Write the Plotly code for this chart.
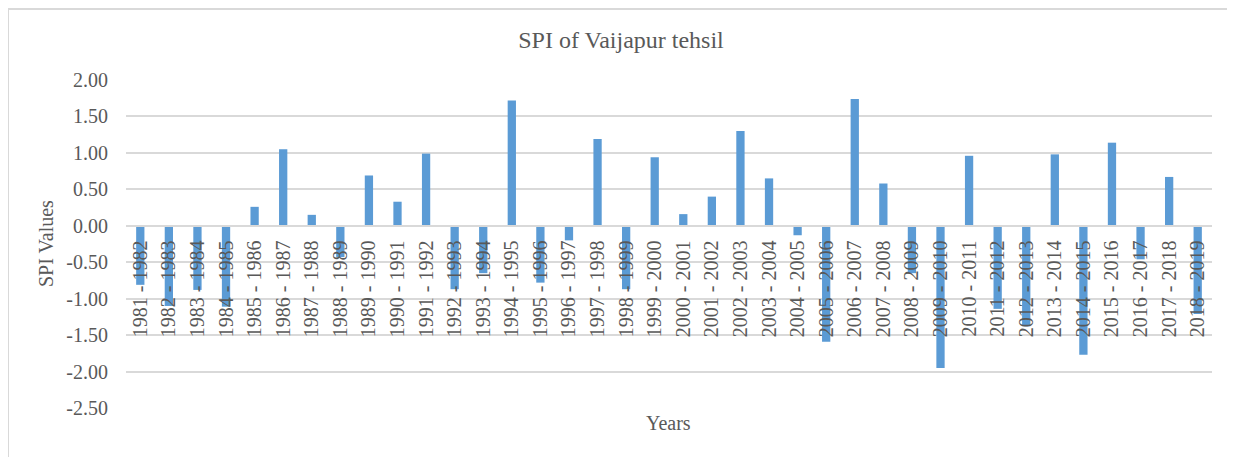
import plotly.graph_objects as go

years = [f"{y} - {y+1}" for y in range(1981, 2019)]
spi_values = [-0.81, -1.10, -0.88, -1.11, 0.26, 1.05, 0.15, -0.43, 0.69, 0.33,
              0.99, -0.87, -0.65, 1.72, -0.78, -0.20, 1.19, -0.87, 0.94, 0.16,
              0.40, 1.30, 0.65, -0.13, -1.59, 1.74, 0.58, -0.65, -1.95, 0.96,
              -1.14, -1.38, 0.98, -1.77, 1.14, -0.46, 0.67, -1.21]
y_ticks = [2.0, 1.5, 1.0, 0.5, 0.0, -0.5, -1.0, -1.5, -2.0, -2.5]

# page body adds an 8px offset; figure covers page pixels 8..1235 x 8..457
OFF = 8
W, H = 1235 - OFF, 457 - OFF
L, R, T, B = 126 - OFF, 23, 80 - OFF, 49
pw, ph = W - L - R, H - T - B

def px(x):  # page pixel -> paper x
    return (x - OFF - L) / pw

def py(y):  # page pixel -> paper y
    return (H - B - (y - OFF)) / ph

font = "Liberation Serif, Times New Roman, serif"
txt = "#595959"
grid = "#D9D9D9"

fig = go.Figure(go.Bar(x=years, y=spi_values, marker_color="#5B9BD5",
                       marker_line_width=0))

fig.update_layout(
    width=W, height=H,
    margin=dict(l=L, r=R, t=T, b=B, autoexpand=False),
    paper_bgcolor="white", plot_bgcolor="white",
    bargap=0.71,
    showlegend=False,
    font=dict(family=font, color=txt, size=20),
    title=dict(text="SPI of Vaijapur tehsil", x=(621 - OFF) / W, xanchor="center",
               y=1 - (40 - OFF) / H, yanchor="middle",
               font=dict(family=font, size=24, color=txt)),
    xaxis=dict(type="category", range=[-0.5, len(years) - 0.5],
               anchor="free", position=2.5 / 4.5,
               showgrid=False, showline=True, linecolor=grid, linewidth=1.5,
               ticks="outside", ticklen=6, tickcolor="rgba(0,0,0,0)",
               tickangle=-90, tickfont=dict(family=font, size=20, color=txt)),
    yaxis=dict(range=[-2.5, 2.0], tickvals=y_ticks,
               ticktext=[f"{v:.2f}" for v in y_ticks],
               showgrid=True, gridcolor=grid, gridwidth=1.5,
               zeroline=True, zerolinecolor=grid, zerolinewidth=1.5,
               showline=False, ticks="", ticklabelstandoff=17,
               tickfont=dict(family=font, size=20, color=txt)),
    shapes=[dict(type="rect", xref="paper", yref="paper",
                 x0=px(8), x1=px(1233), y0=py(480), y1=py(9),
                 line=dict(color=grid, width=2), fillcolor="rgba(0,0,0,0)",
                 layer="below")],
    annotations=[
        dict(text="Years", xref="paper", yref="paper", x=px(668), y=py(423),
             xanchor="center", yanchor="middle", showarrow=False,
             font=dict(family=font, size=20, color=txt)),
        dict(text="SPI Values", xref="paper", yref="paper", x=px(46), y=0.5,
             xanchor="center", yanchor="middle", textangle=-90, showarrow=False,
             font=dict(family=font, size=20, color=txt)),
    ],
)

fig.write_html("out.html")
